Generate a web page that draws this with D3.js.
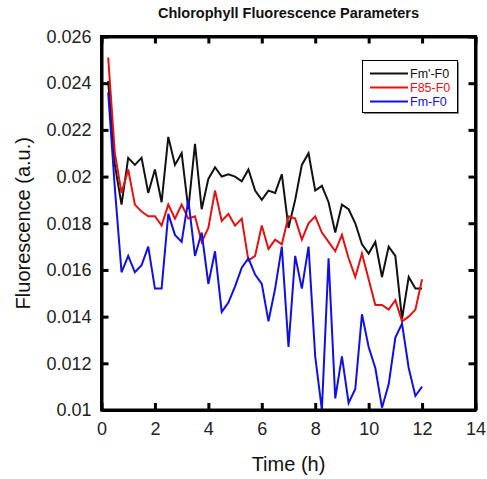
<!DOCTYPE html>
<html>
<head>
<meta charset="utf-8">
<script src="https://cdn.jsdelivr.net/npm/d3@7"></script>
<style>
  html, body { margin: 0; padding: 0; background: #fff; }
  svg { display: block; font-family: "Liberation Sans", Arial, sans-serif; }
</style>
</head>
<body>
<svg id="chart" width="487" height="479"></svg>
<script>
const times = [0.25,0.5,0.75,1,1.25,1.5,1.75,2,2.25,2.5,2.75,3,3.25,3.5,3.75,4,
  4.25,4.5,4.75,5,5.25,5.5,5.75,6,6.25,6.5,6.75,7,7.25,7.5,7.75,8,
  8.25,8.5,8.75,9,9.25,9.5,9.75,10,10.25,10.5,10.75,11,11.25,11.5,11.75,12];

const fmPrimeF0 = [0.0241,0.0205,0.0188,0.0208,0.0205,0.0208,0.0193,0.0203,0.0189,0.0217,0.0205,0.0210,
  0.0186,0.0214,0.0186,0.0199,0.0204,0.0200,0.0201,0.0200,0.0198,0.0203,0.0194,0.0190,
  0.0194,0.0193,0.0201,0.0178,0.0190,0.0205,0.0210,0.0194,0.0196,0.0189,0.0176,0.0188,
  0.0186,0.0180,0.0171,0.0167,0.0172,0.0157,0.0170,0.0166,0.0139,0.0157,0.0152,0.0152];

const f85F0 = [0.0251,0.0210,0.0193,0.0203,0.0188,0.0185,0.0183,0.0183,0.0179,0.0188,0.0182,0.0188,
  0.0182,0.0183,0.0172,0.0178,0.0194,0.0181,0.0184,0.0179,0.0182,0.0164,0.0166,0.0179,
  0.0169,0.0173,0.0171,0.0183,0.0182,0.0173,0.0180,0.0183,0.0176,0.0172,0.0168,0.0175,
  0.0165,0.0157,0.0167,0.0156,0.0145,0.0145,0.0143,0.0147,0.0138,0.0140,0.0143,0.0156];

const fmF0 = [0.0236,0.0195,0.0159,0.0166,0.0159,0.0162,0.0170,0.0152,0.0152,0.0184,0.0175,0.0172,
  0.0190,0.0166,0.0176,0.0154,0.0168,0.0142,0.0146,0.0153,0.0161,0.0165,0.0158,0.0154,
  0.0138,0.0152,0.0170,0.0127,0.0166,0.0152,0.0170,0.0123,0.0100,0.0165,0.0105,0.0123,
  0.0103,0.0109,0.0141,0.0127,0.0118,0.0101,0.0111,0.0131,0.0137,0.0118,0.0106,0.0110];

const seriesNames = ["Fm'-F0", "F85-F0", "Fm-F0"];
const seriesColors = ["#111111", "#e61010", "#1010e6"];
const xTicks = [0,2,4,6,8,10,12,14];
const yTicks = [0.01,0.012,0.014,0.016,0.018,0.02,0.022,0.024,0.026];
const yTickLabels = ["0.01","0.012","0.014","0.016","0.018","0.02","0.022","0.024","0.026"];

const svg = d3.select("#chart");
const L = 101.5, R = 475.5, T = 36.5, B = 410;

const x = d3.scaleLinear().domain([0, 14]).range([L, R]);
const y = d3.scaleLinear().domain([0.01, 0.026]).range([B, T]);

// title
svg.append("text")
  .attr("x", (L + R) / 2).attr("y", 17.5)
  .attr("text-anchor", "middle")
  .attr("font-size", "14.5px").attr("font-weight", "bold")
  .attr("fill", "#111")
  .text("Chlorophyll Fluorescence Parameters");

// series lines
const line = d3.line().x((d, i) => x(times[i])).y(d => y(d));
const allSeries = [fmPrimeF0, f85F0, fmF0];
allSeries.forEach((s, k) => {
  svg.append("path")
    .datum(s)
    .attr("fill", "none")
    .attr("stroke", seriesColors[k])
    .attr("stroke-width", 2)
    .attr("stroke-linejoin", "miter")
    .attr("d", line);
});

// axes
const tickLen = 7;
const fmtY = d => yTickLabels[yTicks.indexOf(d)];

const gB = svg.append("g").attr("transform", `translate(0,${B})`)
  .call(d3.axisBottom(x).tickValues(xTicks).tickSizeInner(-tickLen).tickSizeOuter(0).tickPadding(12));
const gL = svg.append("g").attr("transform", `translate(${L},0)`)
  .call(d3.axisLeft(y).tickValues(yTicks).tickFormat(fmtY).tickSizeInner(-tickLen).tickSizeOuter(0).tickPadding(10));
const gT = svg.append("g").attr("transform", `translate(0,${T})`)
  .call(d3.axisTop(x).tickValues(xTicks).tickFormat("").tickSizeInner(-tickLen).tickSizeOuter(0));
const gR = svg.append("g").attr("transform", `translate(${R},0)`)
  .call(d3.axisRight(y).tickValues(yTicks).tickFormat("").tickSizeInner(-tickLen).tickSizeOuter(0));

[gB, gL, gT, gR].forEach(g => {
  g.select(".domain").attr("stroke", "#000").attr("stroke-width", 3);
  g.selectAll(".tick line").attr("stroke", "#000").attr("stroke-width", 3);
  g.selectAll(".tick text")
    .attr("font-family", "'Liberation Sans', Arial, sans-serif")
    .attr("font-size", "18px").attr("fill", "#222");
});
// frame corners
svg.append("rect").attr("x", L).attr("y", T).attr("width", R - L).attr("height", B - T)
  .attr("fill", "none").attr("stroke", "#000").attr("stroke-width", 3);

// axis titles
svg.append("text")
  .attr("x", (L + R) / 2).attr("y", 471)
  .attr("text-anchor", "middle").attr("font-size", "20px").attr("fill", "#111")
  .text("Time (h)");
svg.append("text")
  .attr("transform", `translate(30,${(T + B) / 2}) rotate(-90)`)
  .attr("text-anchor", "middle").attr("font-size", "20px").attr("fill", "#111")
  .text("Fluorescence (a.u.)");

// legend
const lg = svg.append("g");
lg.append("rect").attr("x", 364).attr("y", 62).attr("width", 95).attr("height", 52)
  .attr("fill", "#888");
lg.append("rect").attr("x", 362.5).attr("y", 60.5).attr("width", 95).attr("height", 52)
  .attr("fill", "#fff").attr("stroke", "#000").attr("stroke-width", 1);
seriesNames.forEach((name, k) => {
  const yy = 73.5 + k * 14;
  lg.append("line").attr("x1", 370).attr("x2", 408).attr("y1", yy).attr("y2", yy)
    .attr("stroke", seriesColors[k]).attr("stroke-width", 2);
  lg.append("text").attr("x", 410).attr("y", yy + 4.5)
    .attr("font-size", "12.5px").attr("fill", seriesColors[k])
    .text(name);
});
</script>
</body>
</html>
